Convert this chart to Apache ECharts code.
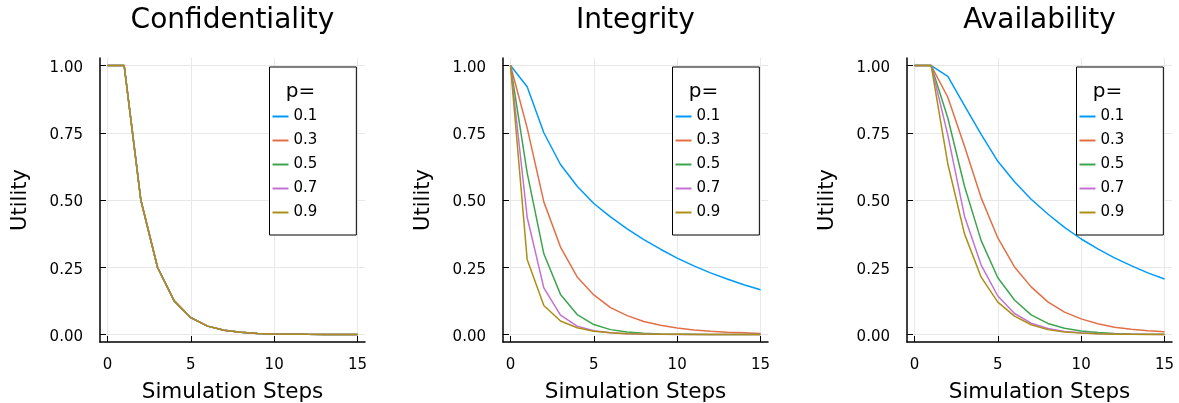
<!DOCTYPE html>
<html><head><meta charset="utf-8">
<script src="https://cdn.jsdelivr.net/npm/echarts@6/dist/echarts.min.js"></script>
<style>html,body{margin:0;padding:0;background:#fff}#c{width:1179px;height:403px}</style>
</head><body><div id="c"></div>
<script>
// ---- data ----
const steps = [0,1,2,3,4,5,6,7,8,9,10,11,12,13,14,15];
const pLabels = ['0.1','0.3','0.5','0.7','0.9'];
const panelTitles = ['Confidentiality','Integrity','Availability'];
const xTicks = [0,5,10,15];
const yTicks = [0,0.25,0.5,0.75,1];

const confP01 = [1,1,0.5,0.25,0.125,0.0625,0.031,0.016,0.008,0.004,0.002,0.001,0.0005,0.0002,0.0001,0.0001];
const confP03 = [1,1,0.5,0.25,0.125,0.0625,0.031,0.016,0.008,0.004,0.002,0.001,0.0005,0.0002,0.0001,0.0001];
const confP05 = [1,1,0.5,0.25,0.125,0.0625,0.031,0.016,0.008,0.004,0.002,0.001,0.0005,0.0002,0.0001,0.0001];
const confP07 = [1,1,0.5,0.25,0.125,0.0625,0.031,0.016,0.008,0.004,0.002,0.001,0.0005,0.0002,0.0001,0.0001];
const confP09 = [1,1,0.5,0.25,0.125,0.0625,0.031,0.016,0.008,0.004,0.002,0.001,0.0005,0.0002,0.0001,0.0001];

const integP01 = [1,0.921,0.750,0.632,0.551,0.487,0.437,0.393,0.353,0.317,0.284,0.255,0.229,0.206,0.185,0.166];
const integP03 = [1,0.768,0.493,0.325,0.214,0.147,0.100,0.070,0.048,0.034,0.024,0.017,0.012,0.008,0.006,0.004];
const integP05 = [1,0.601,0.300,0.149,0.074,0.037,0.018,0.009,0.005,0.002,0.001,0.0006,0.0003,0.0001,0.0001,0];
const integP07 = [1,0.436,0.173,0.072,0.031,0.014,0.006,0.003,0.001,0.0005,0.0002,0.0001,0,0,0,0];
const integP09 = [1,0.279,0.108,0.050,0.025,0.012,0.006,0.003,0.0015,0.0007,0.0004,0.0002,0.0001,0,0,0];

const availP01 = [1,1,0.960,0.851,0.744,0.644,0.568,0.503,0.448,0.398,0.355,0.318,0.285,0.256,0.229,0.206];
const availP03 = [1,1,0.882,0.700,0.508,0.359,0.251,0.177,0.121,0.083,0.058,0.040,0.027,0.019,0.014,0.010];
const availP05 = [1,1,0.805,0.551,0.349,0.211,0.128,0.073,0.041,0.023,0.013,0.007,0.004,0.002,0.001,0.001];
const availP07 = [1,1,0.741,0.440,0.258,0.143,0.078,0.042,0.022,0.011,0.006,0.003,0.0015,0.0008,0.0004,0.0002];
const availP09 = [1,1,0.634,0.374,0.213,0.120,0.068,0.036,0.018,0.009,0.005,0.0025,0.0012,0.0006,0.0003,0.0001];

// ---- layout / style ----
const panels = [
  [confP01,confP03,confP05,confP07,confP09],
  [integP01,integP03,integP05,integP07,integP09],
  [availP01,availP03,availP05,availP07,availP09]
];
const colors = ['#009AFA','#E36F47','#3EA44E','#C371D2','#AC8E18'];
const FONT = 'DejaVu Sans';
const gridLefts = [100, 503, 907];
const GW = 265, GT = 58, GH = 284;

const grid = [], xAxis = [], yAxis = [], series = [], legend = [], graphic = [];
gridLefts.forEach((gl, i) => {
  grid.push({left: gl, top: GT, width: GW, height: GH, containLabel: false, outerBoundsMode: 'none'});
  xAxis.push({
    gridIndex: i, type: 'value', min: -0.45, max: 15.45,
    axisLine: {show: true, onZero: false, lineStyle: {color: '#000', width: 1.5}},
    axisTick: {show: true, inside: true, length: 6, customValues: xTicks, lineStyle: {color: '#000', width: 1}},
    axisLabel: {customValues: xTicks, margin: 16, fontSize: 15, fontFamily: FONT, color: '#000'},
    splitLine: {show: true, lineStyle: {color: '#e8e8e8', width: 1}},
    name: 'Simulation Steps', nameLocation: 'middle', nameGap: 39,
    nameTextStyle: {fontSize: 21.5, fontFamily: FONT, color: '#000'}
  });
  yAxis.push({
    gridIndex: i, type: 'value', min: -0.028, max: 1.028,
    axisLine: {show: true, onZero: false, lineStyle: {color: '#000', width: 1.5}},
    axisTick: {show: true, inside: true, length: 6, customValues: yTicks, lineStyle: {color: '#000', width: 1}},
    axisLabel: {customValues: yTicks, margin: 17, color: '#000',
      formatter: v => '{t|' + Number(v).toFixed(2) + '}',
      rich: {t: {fontSize: 15, fontFamily: FONT, color: '#000', padding: [5, 0, 0, 0]}}},
    splitLine: {show: true, lineStyle: {color: '#e8e8e8', width: 1}},
    name: 'Utility', nameLocation: 'middle', nameGap: 69, nameRotate: 90,
    nameTextStyle: {fontSize: 21, fontFamily: FONT, color: '#000'}
  });
  panels[i].forEach((arr, j) => {
    series.push({
      type: 'line', name: pLabels[j], xAxisIndex: i, yAxisIndex: i,
      data: steps.map((s, k) => [s, arr[k]]),
      showSymbol: false, symbol: 'none', smooth: false,
      lineStyle: {width: 1.5, color: colors[j]}, itemStyle: {color: colors[j]},
      emphasis: {disabled: true}, z: 2 + j
    });
  });
  const lx = gl + 169.5;
  legend.push({
    orient: 'vertical', left: lx, top: 67, padding: [42, 39, 15, 3],
    data: pLabels, icon: 'rect', itemWidth: 16, itemHeight: 2, itemGap: 9,
    borderColor: '#000', borderWidth: 1, backgroundColor: '#fff',
    textStyle: {fontSize: 15, fontFamily: FONT, color: '#000'},
    itemStyle: {borderWidth: 0}, selectedMode: false
  });
  graphic.push({type: 'text', x: gl + GW / 2, y: 21, z: 100,
    style: {text: panelTitles[i], font: '28px "DejaVu Sans"', fill: '#000', align: 'center', verticalAlign: 'middle'}});
  graphic.push({type: 'text', x: lx + 31, y: 92, z: 100,
    style: {text: 'p=', font: '20px "DejaVu Sans"', fill: '#000', align: 'center', verticalAlign: 'middle'}});
});

const chart = echarts.init(document.getElementById('c'), null, {renderer: 'canvas'});
chart.setOption({
  animation: false, backgroundColor: '#fff', color: colors,
  grid, xAxis, yAxis, series, legend, graphic, tooltip: {show: false}
});
</script></body></html>
